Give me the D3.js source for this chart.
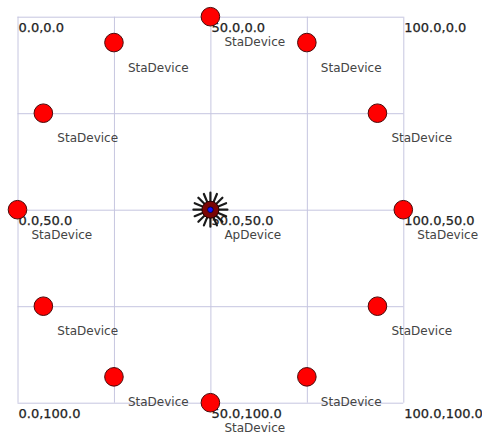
<!DOCTYPE html>
<html>
<head>
<meta charset="utf-8">
<script src="https://cdn.jsdelivr.net/npm/d3@7"></script>
<style>
  html, body { margin: 0; padding: 0; background: #fff; }
  svg { display: block; font-family: "DejaVu Sans", Verdana, sans-serif; }
</style>
</head>
<body>
<div id="chart"></div>
<script>
// node positions in scene units (0..100)
const staX = [50, 75, 93.3, 100, 93.3, 75, 50, 25, 6.7, 0, 6.7, 25];
const staY = [0, 6.7, 25, 50, 75, 93.3, 100, 93.3, 75, 50, 25, 6.7];
const staLabel = 'StaDevice';
const apX = [50];
const apY = [50];
const apLabel = 'ApDevice';
const gridTicks = [0, 25, 50, 75, 100];
const coordTicks = [0, 50, 100];

const W = 482, H = 434;
const svg = d3.select('#chart').append('svg')
  .attr('width', W)
  .attr('height', H);

const x = d3.scaleLinear().domain([0, 100]).range([17.5, 403.3]);
const y = d3.scaleLinear().domain([0, 100]).range([16.7, 402.7]);

const gridColor = '#c6c6e0';

// vertical grid lines
const gx = svg.append('g')
  .attr('transform', `translate(0,${y(0)})`)
  .call(d3.axisTop(x).tickValues(gridTicks).tickSize(-(y(100) - y(0))).tickFormat(''));
gx.select('.domain').remove();
gx.selectAll('line').attr('stroke', gridColor).attr('stroke-width', 1);

// horizontal grid lines
const gy = svg.append('g')
  .attr('transform', `translate(${x(0)},0)`)
  .call(d3.axisLeft(y).tickValues(gridTicks).tickSize(-(x(100) - x(0))).tickFormat(''));
gy.select('.domain').remove();
gy.selectAll('line').attr('stroke', gridColor).attr('stroke-width', 1);

// coordinate labels
const f = d3.format('.1f');
const coords = d3.cross(coordTicks, coordTicks);
svg.append('g').selectAll('text')
  .data(coords)
  .enter().append('text')
  .attr('x', d => x(d[0]) + 1)
  .attr('y', d => y(d[1]) + 15.5)
  .attr('font-size', 13)
  .attr('fill', '#222')
  .attr('stroke', '#222')
  .attr('stroke-width', 0.25)
  .text(d => `${f(d[0])},${f(d[1])}`);

// station nodes
const sta = staX.map((v, i) => ({ x: v, y: staY[i] }));
svg.append('g').selectAll('circle')
  .data(sta)
  .enter().append('circle')
  .attr('cx', d => x(d.x))
  .attr('cy', d => y(d.y))
  .attr('r', 9.3)
  .attr('fill', '#ff0000')
  .attr('stroke', '#4a0a0a')
  .attr('stroke-width', 1);

svg.append('g').selectAll('text')
  .data(sta)
  .enter().append('text')
  .attr('x', d => x(d.x) + 14)
  .attr('y', d => y(d.y) + 29)
  .attr('font-size', 12)
  .attr('fill', '#444')
  .text(staLabel);

// access point
const ap = apX.map((v, i) => ({ x: v, y: apY[i] }));
const apG = svg.append('g').selectAll('g')
  .data(ap)
  .enter().append('g')
  .attr('transform', d => `translate(${x(d.x)},${y(d.y)})`);

const rays = d3.range(16).map(k => k * Math.PI / 8);
apG.selectAll('line')
  .data(rays)
  .enter().append('line')
  .attr('x1', 0).attr('y1', 0)
  .attr('x2', a => 17 * Math.cos(a))
  .attr('y2', a => 17 * Math.sin(a))
  .attr('stroke', '#1a1a1a')
  .attr('stroke-width', 2.2)
  .attr('stroke-linecap', 'round');
apG.append('circle')
  .attr('r', 8.5)
  .attr('fill', '#7a0505')
  .attr('stroke', '#200000')
  .attr('stroke-width', 1);
apG.append('circle')
  .attr('r', 2.8)
  .attr('fill', '#1010ff')
  .attr('stroke', '#000033')
  .attr('stroke-width', 0.8);

svg.append('g').selectAll('text')
  .data(ap)
  .enter().append('text')
  .attr('x', d => x(d.x) + 14)
  .attr('y', d => y(d.y) + 29)
  .attr('font-size', 12)
  .attr('fill', '#444')
  .text(apLabel);
</script>
</body>
</html>
